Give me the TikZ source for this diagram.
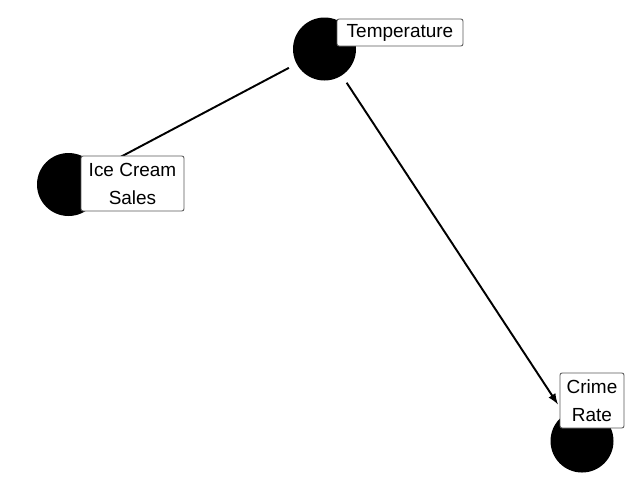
\documentclass[tikz,border=0pt]{standalone}
\usepackage{fontspec}
\setmainfont{Liberation Sans}
\usetikzlibrary{arrows,positioning}

\tikzset{
  var/.style={circle, fill=black, inner sep=0pt, minimum size=1.26cm},
  varlabel/.style={draw=gray!70!black, line width=0.5pt, fill=white, rounded corners=1.2pt,
    inner sep=0pt, align=center, font=\fontsize{10.8}{15.9}\selectfont},
  link/.style={line width=1.1pt, shorten <=0.17cm, shorten >=0.24cm}
}

\begin{document}
\begin{tikzpicture}[>=latex]
\useasboundingbox (0,0) rectangle (12.88,-9.92);

% Variables.
\node[var] (temp) at (6.49,-0.98) {};
\node[var] (ice) at (1.37,-3.69) {};
\node[var] (crime) at (11.64,-8.82) {};

% Edges.
\draw[link] (temp) -- (ice);
\draw[link,->] (temp) -- (crime);

% Labels.
\node[varlabel, minimum width=2.52cm, minimum height=0.54cm] (tempLab) at (8.0,-0.65) {Temperature};
\node[varlabel, minimum width=2.06cm, minimum height=1.10cm] (iceLab) at (2.65,-3.67) {Ice Cream\\Sales};
\node[varlabel, minimum width=1.28cm, minimum height=1.10cm] (crimeLab) at (11.84,-8.01) {Crime\\Rate};
\end{tikzpicture}
\end{document}
